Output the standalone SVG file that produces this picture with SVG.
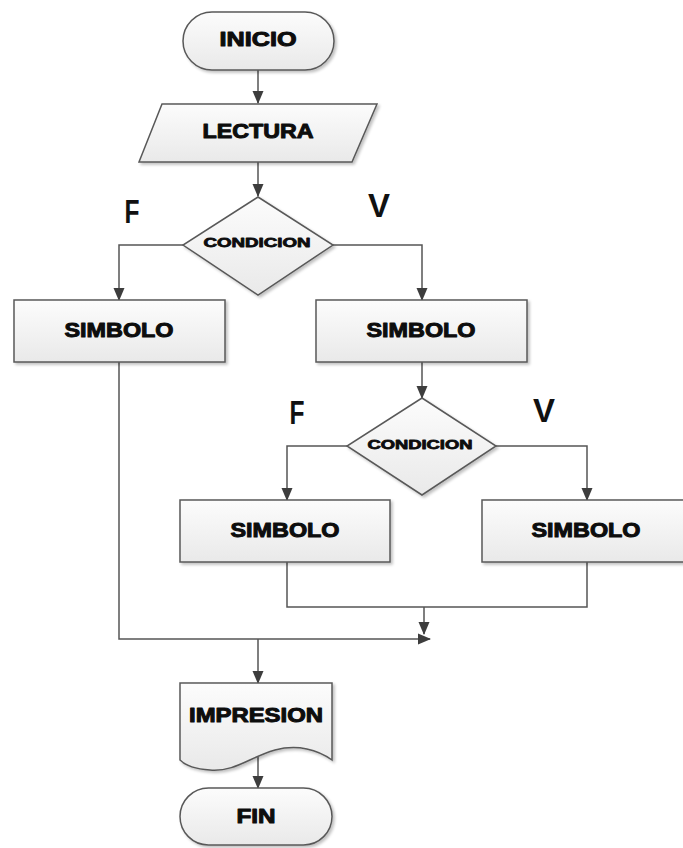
<svg xmlns="http://www.w3.org/2000/svg" width="683" height="848" viewBox="0 0 683 848">
  <defs>
    <linearGradient id="fillGrad" x1="0" y1="0" x2="0" y2="1">
      <stop offset="0" stop-color="#fcfcfc"/>
      <stop offset="1" stop-color="#e9e9e9"/>
    </linearGradient>
    <filter id="shadow" x="-10%" y="-10%" width="125%" height="130%">
      <feGaussianBlur in="SourceAlpha" stdDeviation="1.5"/>
      <feOffset dx="2" dy="2" result="blur"/>
      <feComponentTransfer><feFuncA type="linear" slope="0.25"/></feComponentTransfer>
      <feMerge><feMergeNode/><feMergeNode in="SourceGraphic"/></feMerge>
    </filter>
    <marker id="arrow" viewBox="0 0 13 12" refX="12" refY="6" markerWidth="13" markerHeight="12" markerUnits="userSpaceOnUse" orient="auto">
      <path d="M0,0.5 L13,6 L0,11.5 Z" fill="#3d3d3d"/>
    </marker>
    <style>
      .shape { fill: url(#fillGrad); stroke: #595959; stroke-width: 1.5; filter: url(#shadow); }
      .lbl { font-family: "Liberation Sans", Arial, sans-serif; font-weight: bold; fill: #0d0d0d; stroke: #0d0d0d; stroke-width: 1; stroke-linejoin: round; text-anchor: middle; }
      .big { font-size: 20px; }
      .small { font-size: 13px; stroke-width: 0.8; }
      .tf { font-family: "Liberation Sans", Arial, sans-serif; font-weight: bold; font-size: 33px; fill: #111; text-anchor: middle; }
      .wire { fill: none; stroke: #555; stroke-width: 1.5; }
    </style>
  </defs>

  <!-- connectors -->
  <g id="connectors">
    <path class="wire" d="M258,70 V103" marker-end="url(#arrow)"/>
    <path class="wire" d="M258,162 V196" marker-end="url(#arrow)"/>
    <path class="wire" d="M183,245 H119 V300" marker-end="url(#arrow)"/>
    <path class="wire" d="M333,245 H422 V300" marker-end="url(#arrow)"/>
    <path class="wire" d="M422,362 V398" marker-end="url(#arrow)"/>
    <path class="wire" d="M347,446 H287 V500" marker-end="url(#arrow)"/>
    <path class="wire" d="M496,446 H587 V500" marker-end="url(#arrow)"/>
    <path class="wire" d="M287,562 V607 H587 V562"/>
    <path class="wire" d="M424,607 V634" marker-end="url(#arrow)"/>
    <path class="wire" d="M119,362 V639 H430" marker-end="url(#arrow)"/>
    <path class="wire" d="M258,639 V683" marker-end="url(#arrow)"/>
    <path class="wire" d="M258,757 V788" marker-end="url(#arrow)"/>
  </g>

  <!-- branch labels -->
  <g id="branch-labels">
    <text class="tf" x="132" y="223" textLength="15" lengthAdjust="spacingAndGlyphs">F</text>
    <text class="tf" x="379" y="217" textLength="22" lengthAdjust="spacingAndGlyphs">V</text>
    <text class="tf" x="297" y="424" textLength="15" lengthAdjust="spacingAndGlyphs">F</text>
    <text class="tf" x="544" y="422" textLength="22" lengthAdjust="spacingAndGlyphs">V</text>
  </g>

  <g id="inicio">
    <rect class="shape" x="183" y="12" width="151" height="58" rx="29" ry="29"/>
    <text class="lbl big" x="258" y="46" textLength="77" lengthAdjust="spacingAndGlyphs">INICIO</text>
  </g>

  <g id="lectura">
    <polygon class="shape" points="162,104 377,104 352,162 139,162"/>
    <text class="lbl big" x="258" y="138" textLength="111" lengthAdjust="spacingAndGlyphs">LECTURA</text>
  </g>

  <g id="condicion-1">
    <polygon class="shape" points="258,197 333,245 258,295 183,245"/>
    <text class="lbl small" x="257" y="247" textLength="107" lengthAdjust="spacingAndGlyphs">CONDICION</text>
  </g>

  <g id="simbolo-f1">
    <rect class="shape" x="14" y="300" width="211" height="62"/>
    <text class="lbl big" x="119" y="337" textLength="109" lengthAdjust="spacingAndGlyphs">SIMBOLO</text>
  </g>

  <g id="simbolo-v1">
    <rect class="shape" x="316" y="300" width="211" height="62"/>
    <text class="lbl big" x="421" y="337" textLength="109" lengthAdjust="spacingAndGlyphs">SIMBOLO</text>
  </g>

  <g id="condicion-2">
    <polygon class="shape" points="422,398 496,446 422,495 347,446"/>
    <text class="lbl small" x="420" y="449" textLength="105" lengthAdjust="spacingAndGlyphs">CONDICION</text>
  </g>

  <g id="simbolo-f2">
    <rect class="shape" x="180" y="500" width="210" height="62"/>
    <text class="lbl big" x="285" y="537" textLength="109" lengthAdjust="spacingAndGlyphs">SIMBOLO</text>
  </g>

  <g id="simbolo-v2">
    <rect class="shape" x="482" y="500" width="210" height="62"/>
    <text class="lbl big" x="586" y="537" textLength="109" lengthAdjust="spacingAndGlyphs">SIMBOLO</text>
  </g>

  <g id="impresion">
    <path class="shape" d="M180,683 H332 V760 C318,750 298,744 275,750 C250,757 235,772 210,770 C195,769 185,765 180,760 Z"/>
    <text class="lbl big" x="256" y="722" textLength="134" lengthAdjust="spacingAndGlyphs">IMPRESION</text>
  </g>

  <g id="fin">
    <rect class="shape" x="180" y="788" width="152" height="57" rx="28.5" ry="28.5"/>
    <text class="lbl big" x="256" y="823" textLength="39" lengthAdjust="spacingAndGlyphs">FIN</text>
  </g>
</svg>
